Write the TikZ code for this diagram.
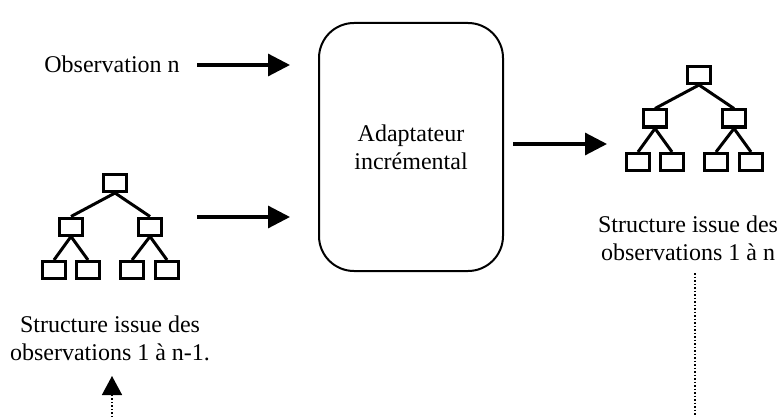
\documentclass[tikz,border=0pt]{standalone}
\usepackage{fontspec}
\setmainfont{Liberation Serif}
\usetikzlibrary{arrows.meta}
\begin{document}
\begin{tikzpicture}[x=0.5pt,y=-0.5pt,
  every node/.style={font=\fontsize{12pt}{14pt}\selectfont},
  leaf/.style={draw, line width=1.5pt, minimum width=11.5pt, minimum height=8.5pt, inner sep=0pt},
  branch/.style={line width=1.5pt},
  flow/.style={line width=1.6pt, -{Triangle[length=11pt,width=11pt]}},
  trail/.style={line width=0.75pt, dash pattern=on 0.75pt off 1pt},
  upflow/.style={trail, -{Triangle[length=9.5pt,width=10pt]}},
  lbl/.style={align=center, inner sep=0pt},
  tree/.pic={
    \node[leaf] (-t)  at (0,0)     {};
    \node[leaf] (-ml) at (-44,43.5) {};
    \node[leaf] (-mr) at (35,43.5)  {};
    \node[leaf] (-b1) at (-61,87)  {};
    \node[leaf] (-b2) at (-27,87)  {};
    \node[leaf] (-b3) at (17,87)   {};
    \node[leaf] (-b4) at (52,87)   {};
    \draw[branch] (-t.south) -- (-ml.north);
    \draw[branch] (-t.south) -- (-mr.north);
    \draw[branch] (-ml.south) -- (-b1.north);
    \draw[branch] (-ml.south) -- (-b2.north);
    \draw[branch] (-mr.south) -- (-b3.north);
    \draw[branch] (-mr.south) -- (-b4.north);
  }]
  \useasboundingbox (0,0) rectangle (781,417);

  % central processing block
  \node[draw, line width=1pt, rounded corners=17.5pt, minimum width=92pt,
        minimum height=124pt, align=center, inner sep=0pt] (box) at (411,147)
        {Adaptateur\\incrémental};

  % input observation
  \node[anchor=base west, inner sep=0pt] (obs) at (44,73) {Observation n};

  % structures before and after adaptation
  \pic (old) at (115,183) {tree};
  \pic (new) at (699,75) {tree};

  \node[lbl] (oldlbl) at (110,338) {Structure issue des\\observations 1 à n-1.};
  \node[lbl] (newlbl) at (688,238) {Structure issue des\\observations 1 à n};

  % flows into and out of the adapter
  \coordinate (in1) at (197,65);
  \coordinate (in2) at (197,217);
  \coordinate (out1) at (513,144);
  \draw[flow] (in1) -- ([xshift=-14pt]box.west |- in1);
  \draw[flow] (in2) -- ([xshift=-14pt]box.west |- in2);
  \draw[flow] (out1) -- ([xshift=-9pt]new-b1.west |- out1);

  % feedback trails
  \coordinate (upfoot) at (112,417);
  \coordinate (uptip) at (112,376);
  \draw[upflow] (upfoot) -- (uptip);
  \coordinate (downtop) at (695,273);
  \coordinate (downfoot) at (695,417);
  \draw[trail] (downtop) -- (downfoot);
\end{tikzpicture}
\end{document}
